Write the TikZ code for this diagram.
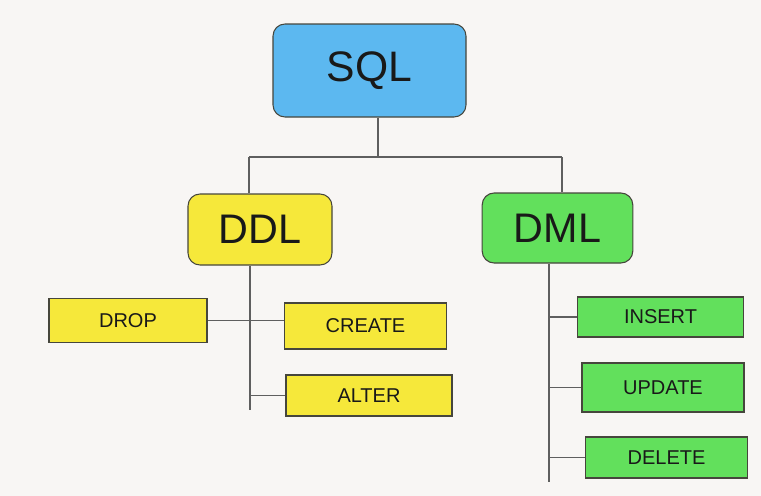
\documentclass[tikz,border=0pt]{standalone}
\usepackage{fontspec}
\setmainfont{Liberation Sans}
\definecolor{bgcol}{RGB}{248,246,244}
\definecolor{sqlblue}{RGB}{92,184,240}
\definecolor{ddlyellow}{RGB}{246,232,58}
\definecolor{dmlgreen}{RGB}{98,224,92}
\definecolor{boxline}{RGB}{70,70,60}
\definecolor{wirecol}{RGB}{95,95,95}

\begin{document}
\begin{tikzpicture}[x=0.75pt, y=-0.75pt,
    % node attributes
    every node/.style = {
        draw=boxline,
        line width=0.8pt,
        align=center,
        inner sep=0pt,
        text=black!90},
    bigbox/.style = {rounded corners=9pt, font=\fontsize{31}{36}\selectfont},
    smallbox/.style = {minimum width=122pt, minimum height=33pt,
        font=\fontsize{15}{18}\selectfont},
    wire/.style = {draw=wirecol, line width=0.8pt}]
    % background
    \fill[bgcol] (0,0) rectangle (761,496);
    % layout tree structure
    \node[bigbox, fill=sqlblue, minimum width=144.75pt, minimum height=69.75pt,
        font=\fontsize{32}{38}\selectfont] (sql) at (369.5,70.5) {SQL};
    \node[bigbox, fill=ddlyellow, minimum width=108pt, minimum height=53.25pt] (ddl) at (260,229.5) {DDL};
    \node[bigbox, fill=dmlgreen, minimum width=113pt, minimum height=52.5pt] (dml) at (557.5,228) {DML};
    % DDL commands
    \node[smallbox, fill=ddlyellow, minimum width=118.5pt] (drop) at (128,320.5) {DROP};
    \node[smallbox, fill=ddlyellow, minimum height=34.5pt] (create) at (365.5,326) {CREATE};
    \node[smallbox, fill=ddlyellow, minimum width=124.5pt, minimum height=30.75pt] (alter) at (369,395.5) {ALTER};
    % DML commands
    \node[smallbox, fill=dmlgreen, minimum width=125pt, minimum height=30pt] (insert) at (660.5,317) {INSERT};
    \node[smallbox, fill=dmlgreen, minimum width=121.5pt, minimum height=36.75pt] (update) at (663,387.5) {UPDATE};
    \node[smallbox, fill=dmlgreen, minimum height=30.75pt] (delete) at (666.5,457.5) {DELETE};
    % connectors
    \coordinate (hub) at (378,157);
    \coordinate (busL) at (249,157);
    \coordinate (busR) at (562,157);
    \coordinate (ddlend) at (250,410);
    \coordinate (dmlend) at (549,482);
    \draw[wire] (sql.south -| hub) -- (hub);
    \draw[wire] (busL) -- (busR);
    \draw[wire] (busL) -- (busL |- ddl.north);
    \draw[wire] (busR) -- (busR |- dml.north);
    \draw[wire] (ddlend |- ddl.south) -- (ddlend);
    \draw[wire] (drop.east) -- (drop.east -| create.west);
    \draw[wire] (alter.west) -- (alter.west -| ddlend);
    \draw[wire] (dmlend |- dml.south) -- (dmlend);
    \draw[wire] (insert.west) -- (insert.west -| dmlend);
    \draw[wire] (update.west) -- (update.west -| dmlend);
    \draw[wire] (delete.west) -- (delete.west -| dmlend);
\end{tikzpicture}
\end{document}
